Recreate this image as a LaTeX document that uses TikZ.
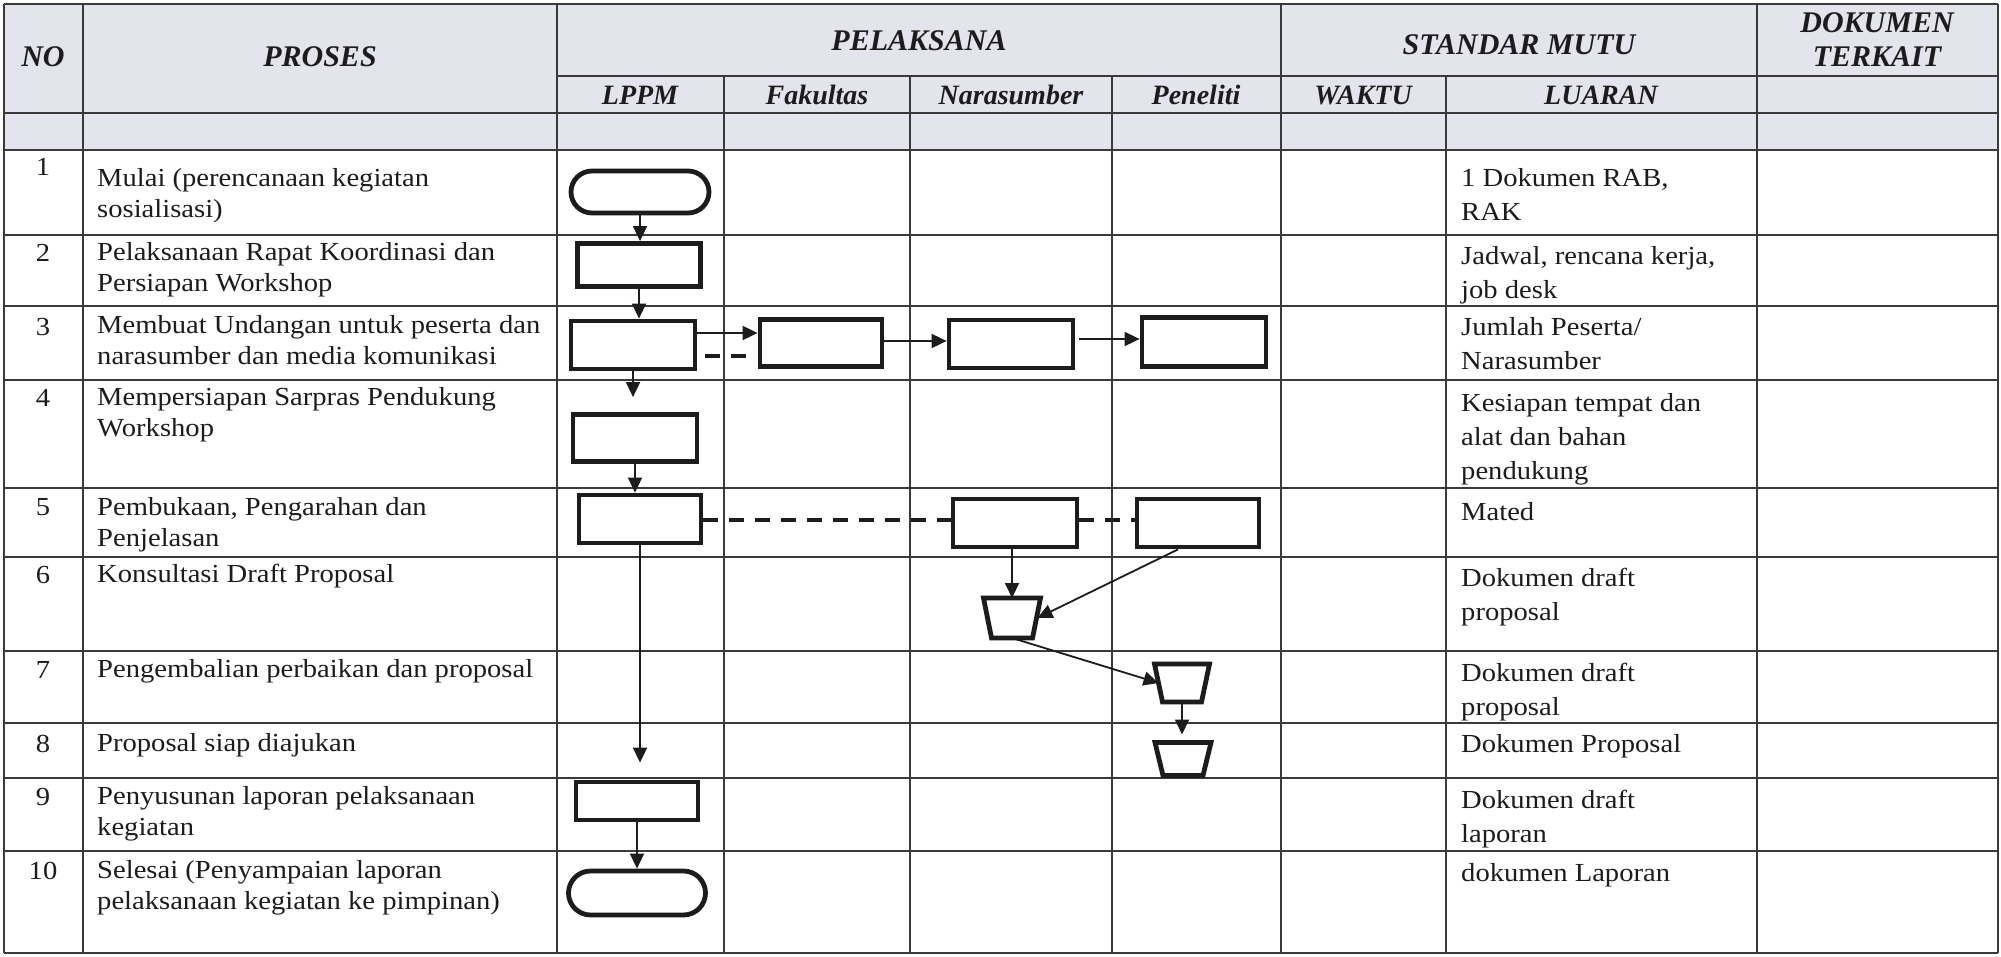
\documentclass[tikz,border=0pt]{standalone}
\usepackage{fontspec}
\setmainfont{Liberation Serif}[FakeStretch=1.1]
\newfontfamily\hdrfont{Liberation Serif}
\usetikzlibrary{arrows.meta,shapes.misc}
\definecolor{hdr}{HTML}{E4E4EC}
\definecolor{gridc}{HTML}{3A3A3A}
\definecolor{ink}{HTML}{1C1C1C}
\newcommand{\cellt}[1]{\begin{tabular}[t]{@{}l@{}}#1\end{tabular}}
\newcommand{\trapz}[1]{\draw[draw=ink, line width=4.8pt, line join=miter]
  (#1.north west) -- (#1.north east) -- ([xshift=-8pt]#1.south east) -- ([xshift=8pt]#1.south west) -- cycle;}
\tikzset{
  tline/.style={draw=gridc, line width=2pt},
  fbox/.style={draw=ink, line width=4.8pt, rectangle, inner sep=0pt},
  term/.style={draw=ink, line width=4.8pt, rounded rectangle, inner sep=0pt},
  trap/.style={rectangle, inner sep=0pt, outer sep=0pt},
  arr/.style={draw=ink, line width=1.8pt, -{Triangle[length=15pt,width=14pt]}},
  dsh/.style={draw=ink, line width=4pt, dash pattern=on 15pt off 11pt},
  htext/.style={anchor=base, inner sep=0pt, font=\hdrfont\fontsize{30}{34}\selectfont\bfseries\itshape, text=ink},
  stext/.style={anchor=base, inner sep=0pt, font=\hdrfont\fontsize{28}{31}\selectfont\bfseries\itshape, text=ink},
  ntext/.style={anchor=base, inner sep=0pt, font=\fontsize{26}{31}\selectfont, text=ink},
  ptext/.style={anchor=base west, inner sep=0pt, font=\fontsize{26}{31}\selectfont, text=ink},
  ltext/.style={anchor=base west, inner sep=0pt, font=\fontsize{26}{34}\selectfont, text=ink}
}
\begin{document}
\begin{tikzpicture}[x=1pt,y=-1pt]
\useasboundingbox (0,0) rectangle (2001,957);
\fill[white] (0,0) rectangle (2001,957);
\fill[hdr] (4,4) rectangle (1998,150);
% horizontal lines
\foreach \yy in {4,113,150,235,306,380,488,557,651,723,778,851,953}
  \draw[tline] (4,\yy) -- (1998,\yy);
\draw[tline] (557,76) -- (1998,76);
% vertical lines
\foreach \xx in {4,83,557,1281,1757,1998}
  \draw[tline] (\xx,4) -- (\xx,953);
\foreach \xx in {724,910,1112,1446}
  \draw[tline] (\xx,76) -- (\xx,953);
% header texts
\node[htext] (hno) at (43,67) {NO};
\node[htext] (hpro) at (320,67) {PROSES};
\node[htext] (hpel) at (919,51) {PELAKSANA};
\node[htext] (hstd) at (1519,55) {STANDAR MUTU};
\node[htext] (hdok) at (1877,33) {DOKUMEN};
\node[htext] (hter) at (1877,67) {TERKAIT};
\node[stext] (hlp) at (640,105) {LPPM};
\node[stext] (hfk) at (817,105) {Fakultas};
\node[stext] (hnr) at (1011,105) {Narasumber};
\node[stext] (hpn) at (1196,105) {Peneliti};
\node[stext] (hwk) at (1363,105) {WAKTU};
\node[stext] (hlu) at (1601,105) {LUARAN};
% numbers
\node[ntext] (r1) at (43,176) {1};
\node[ntext] (r2) at (43,262) {2};
\node[ntext] (r3) at (43,335) {3};
\node[ntext] (r4) at (43,406) {4};
\node[ntext] (r5) at (43,515) {5};
\node[ntext] (r6) at (43,583) {6};
\node[ntext] (r7) at (43,678) {7};
\node[ntext] (r8) at (43,752) {8};
\node[ntext] (r9) at (43,805) {9};
\node[ntext] (r10) at (43,879) {10};
% proses
\node[ptext] (p1) at (97,187) {\cellt{Mulai (perencanaan kegiatan\\sosialisasi)}};
\node[ptext] (p2) at (97,261) {\cellt{Pelaksanaan Rapat Koordinasi dan\\Persiapan Workshop}};
\node[ptext] (p3) at (97,334) {\cellt{Membuat Undangan untuk peserta dan\\narasumber dan media komunikasi}};
\node[ptext] (p4) at (97,405) {\cellt{Mempersiapan Sarpras Pendukung\\Workshop}};
\node[ptext] (p5) at (97,515) {\cellt{Pembukaan, Pengarahan dan\\Penjelasan}};
\node[ptext] (p6) at (97,582) {Konsultasi Draft Proposal};
\node[ptext] (p7) at (97,677) {Pengembalian perbaikan dan proposal};
\node[ptext] (p8) at (97,751) {Proposal siap diajukan};
\node[ptext] (p9) at (97,804) {\cellt{Penyusunan laporan pelaksanaan\\kegiatan}};
\node[ptext] (p10) at (97,878) {\cellt{Selesai (Penyampaian laporan\\pelaksanaan kegiatan ke pimpinan)}};
% luaran
\node[ltext] (l1) at (1461,187) {\cellt{1 Dokumen RAB,\\RAK}};
\node[ltext] (l2) at (1461,265) {\cellt{Jadwal, rencana kerja,\\job desk}};
\node[ltext] (l3) at (1461,335) {\cellt{Jumlah Peserta/\\Narasumber}};
\node[ltext] (l4) at (1461,411) {\cellt{Kesiapan tempat dan\\alat dan bahan\\pendukung}};
\node[ltext] (l5) at (1461,520) {Mated};
\node[ltext] (l6) at (1461,586) {\cellt{Dokumen draft\\proposal}};
\node[ltext] (l7) at (1461,681) {\cellt{Dokumen draft\\proposal}};
\node[ltext] (l8) at (1461,752) {Dokumen Proposal};
\node[ltext] (l9) at (1461,808) {\cellt{Dokumen draft\\laporan}};
\node[ltext] (l10) at (1461,881) {dokumen Laporan};
% flow shapes
\node[term, minimum width=138pt, minimum height=42pt] (t1) at (640,192) {};
\node[fbox, minimum width=123pt, minimum height=43pt] (b2) at (639,265) {};
\node[fbox, minimum width=124pt, minimum height=48pt] (b3) at (633,345) {};
\node[fbox, minimum width=122pt, minimum height=47pt] (f3) at (821,343) {};
\node[fbox, minimum width=124pt, minimum height=48pt] (n3) at (1011,344) {};
\node[fbox, minimum width=124pt, minimum height=49pt] (p3) at (1204,342) {};
\node[fbox, minimum width=124pt, minimum height=47pt] (b4) at (635,438) {};
\node[fbox, minimum width=122pt, minimum height=48pt] (b5) at (640,519) {};
\node[fbox, minimum width=124pt, minimum height=48pt] (n5) at (1015,523) {};
\node[fbox, minimum width=122pt, minimum height=48pt] (p5) at (1198,523) {};
\node[trap, minimum width=57pt, minimum height=40pt] (z6) at (1012,618) {};
\node[trap, minimum width=55pt, minimum height=38pt] (z7) at (1182,683) {};
\node[trap, minimum width=56pt, minimum height=33pt] (z8) at (1183,759) {};
\trapz{z6}
\trapz{z7}
\trapz{z8}
\node[fbox, minimum width=122pt, minimum height=38pt] (b9) at (637,801) {};
\node[term, minimum width=137pt, minimum height=44pt] (t10) at (637,893) {};
% connectors
\draw[arr] (t1.south) -- (t1.south |- b2.north);
\draw[arr] (b2.south) -- (b2.south |- b3.north);
\draw[arr, shorten >=15pt] (b3.south) -- (b3.south |- b4.north);
\draw[arr] (b4.south) -- (b4.south |- b5.north);
\draw[arr, shorten >=17pt] (b5.south) -- (b5.south |- b9.north);
\draw[arr] (b9.south) -- (b9.south |- t10.north);
\draw[arr] (b3.east |- 0,333) -- (f3.west |- 0,333);
\draw[dsh, shorten <=8pt, shorten >=6pt] (b3.east |- 0,356) -- (f3.west |- 0,356);
\draw[arr] (f3.east |- 0,341) -- (n3.west |- 0,341);
\draw[arr, shorten <=4pt] (n3.east |- 0,339) -- (p3.west |- 0,339);
\draw[dsh] (b5.east |- 0,520) -- (n5.west |- 0,520);
\draw[dsh] (n5.east |- 0,520) -- (p5.west |- 0,520);
\draw[arr] (z6.north |- n5.south) -- (z6.north);
\draw[arr] (1178,0 |- p5.south) -- ([xshift=-3pt]z6.east);
\draw[arr] (z6.south) -- ([xshift=4pt]z7.west);
\draw[arr, shorten >=8pt] (z7.south) -- (z7.south |- z8.north);
\end{tikzpicture}
\end{document}
